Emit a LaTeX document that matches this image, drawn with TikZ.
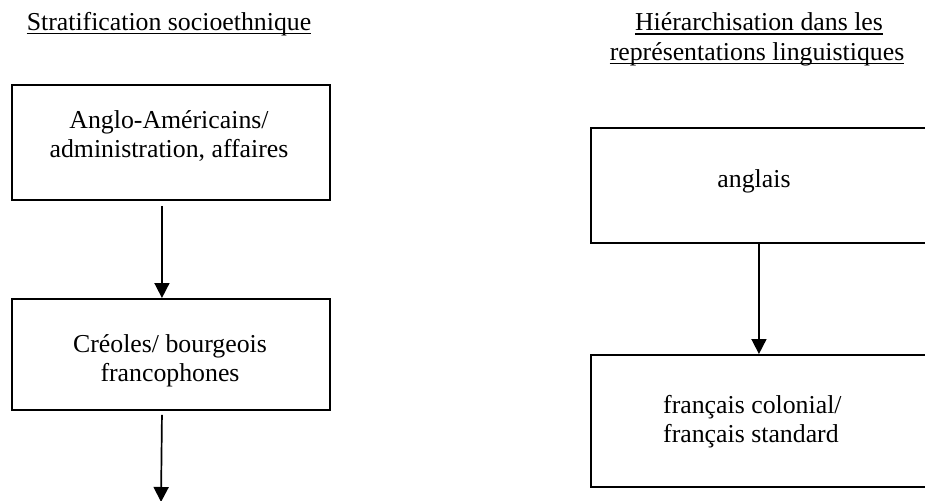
\documentclass[tikz,border=0pt]{standalone}
\usepackage{fontspec}
\setmainfont{Liberation Serif}
\usetikzlibrary{arrows.meta}
\tikzset{
  boxnode/.style={draw=black, line width=1.9pt, rectangle, inner sep=0pt, anchor=north west},
  txt/.style={inner sep=0pt, font=\fontsize{25.8}{29.5}\selectfont, align=center, anchor=base},
  ttl/.style={inner sep=0pt, font=\fontsize{25.8}{29.5}\selectfont, anchor=base},
  uline/.style={line width=1.3pt},
  arr/.style={line width=1.7pt, -{Triangle[length=15pt,width=15pt]}}
}
\begin{document}
\begin{tikzpicture}[x=1pt,y=-1pt]
\useasboundingbox (0,0) rectangle (925,500);
\clip (0,0) rectangle (925,500);
% titles
\node[ttl] (t1) at (169,30.5) {Stratification socioethnique};
\draw[uline] ([yshift=-3pt]t1.base west) -- ([yshift=-3pt]t1.base east);
\node[ttl] (t2) at (759,31) {Hiérarchisation dans les};
\draw[uline] ([yshift=-3pt]t2.base west) -- ([yshift=-3pt]t2.base east);
\node[ttl] (t3) at (757,60.5) {représentations linguistiques};
\draw[uline] ([yshift=-3pt]t3.base west) -- ([yshift=-3pt]t3.base east);
% left boxes
\node[boxnode, minimum width=318pt, minimum height=115pt] (b1) at (11,84) {};
\node[boxnode, minimum width=318pt, minimum height=111pt] (b2) at (11,298) {};
\node[txt] (l1) at (169,157.5) {Anglo-Américains/\\administration, affaires};
\node[txt] (l2) at (170,381.5) {Créoles/ bourgeois\\francophones};
% right boxes
\node[boxnode, minimum width=350pt, minimum height=115pt] (b3) at (590,127) {};
\node[boxnode, minimum width=350pt, minimum height=132pt] (b4) at (590,354) {};
\node[txt] (r1) at (754,187) {anglais};
\node[txt, align=left, anchor=base west] (r2) at (663,442.5) {français colonial/\\français standard};
% arrows
\coordinate (e2) at (161,502);
\draw[arr] ([xshift=-9pt,yshift=-5pt]b1.south) -- ([xshift=-9pt]b2.north);
\draw[arr] ([xshift=-9pt,yshift=-4pt]b2.south) -- (e2);
\draw[arr] ([xshift=-7pt]b3.south) -- ([xshift=-7pt]b4.north);
\end{tikzpicture}
\end{document}
